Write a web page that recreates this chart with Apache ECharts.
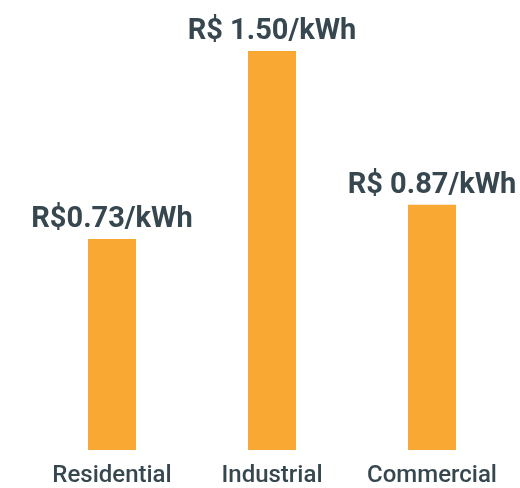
<!DOCTYPE html>
<html>
<head>
<meta charset="utf-8">
<script src="https://cdn.jsdelivr.net/npm/echarts@6/dist/echarts.min.js"></script>
<style>
  html, body { margin: 0; padding: 0; background: #ffffff; }
  #chart { width: 520px; height: 488px; }
</style>
</head>
<body>
<div id="chart"></div>
<script>
// Electricity tariff by consumer class
var categories = ['Residential', 'Industrial', 'Commercial'];
var tariffs = [0.73, 1.50, 0.87];
var tariffLabels = ['R$0.73/kWh', 'R$ 1.50/kWh', 'R$ 0.87/kWh'];

// Value axis floor: columns rise from the bottom of the value axis
var axisFloor = -0.134;
var axisCeil = 1.5;

var barColor = '#F9A834';
var textColor = '#37474F';
var font = 'Roboto, "Noto Sans", sans-serif';

var chart = echarts.init(document.getElementById('chart'));

chart.setOption({
  animation: false,
  grid: { left: 32, right: 8, top: 51, bottom: 38 },
  xAxis: {
    type: 'category',
    data: categories,
    axisLine: { show: false },
    axisTick: { show: false },
    axisLabel: {
      interval: 0,
      color: textColor,
      fontFamily: font,
      fontWeight: 500,
      fontSize: 24,
      margin: 14
    }
  },
  yAxis: {
    type: 'value',
    min: axisFloor,
    max: axisCeil,
    show: false,
    splitLine: { show: false }
  },
  series: [{
    type: 'custom',
    data: tariffs.map(function (v, i) { return [i, v]; }),
    renderItem: function (params, api) {
      var idx = api.value(0);
      var top = api.coord([idx, api.value(1)]);
      var bottom = api.coord([idx, axisFloor]);
      var band = api.size([1, 0])[0];
      var w = band * 0.3;
      return {
        type: 'group',
        children: [{
          type: 'rect',
          shape: { x: top[0] - w / 2, y: top[1], width: w, height: bottom[1] - top[1] },
          style: { fill: barColor }
        }, {
          type: 'text',
          x: top[0],
          y: top[1] - 5,
          style: {
            text: tariffLabels[params.dataIndex],
            fill: textColor,
            font: 'bold 29px ' + font,
            textAlign: 'center',
            textVerticalAlign: 'bottom'
          }
        }]
      };
    }
  }]
});
</script>
</body>
</html>
